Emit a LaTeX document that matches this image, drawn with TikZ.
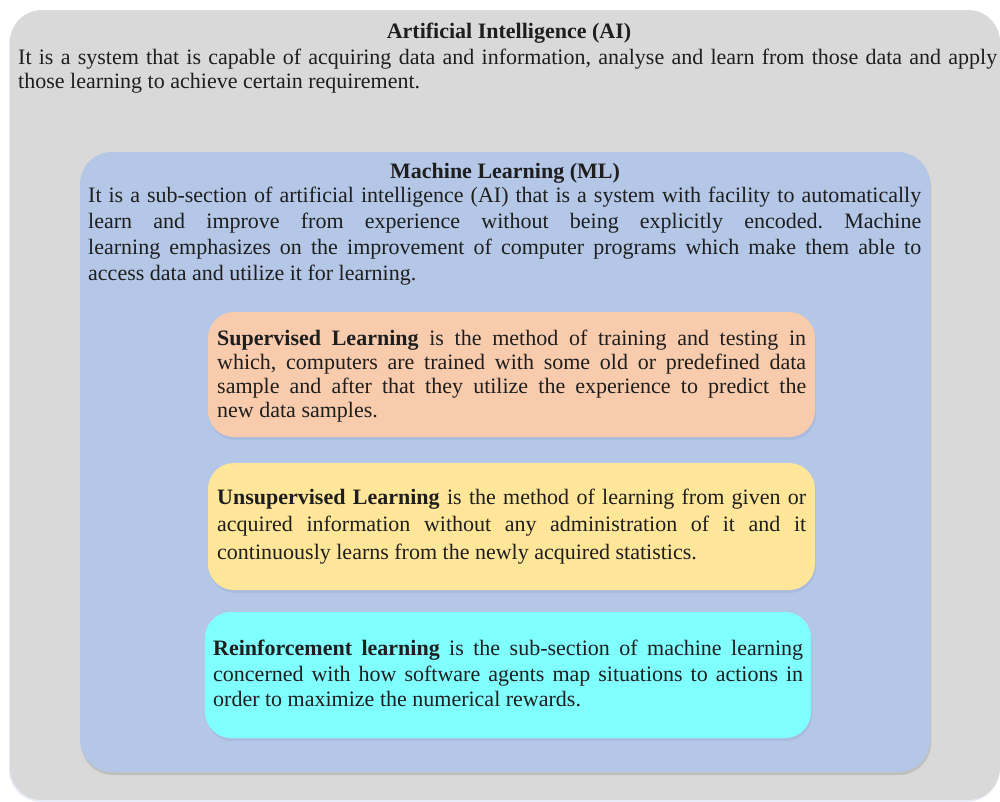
\documentclass[tikz,border=0pt]{standalone}
\usepackage{fontspec}
\setmainfont{Liberation Serif}
\usetikzlibrary{shadows}
\definecolor{aigray}{HTML}{D9D9D9}
\definecolor{mlblue}{HTML}{B4C7E7}
\definecolor{suppeach}{HTML}{F8CBAD}
\definecolor{unsyellow}{HTML}{FFE699}
\definecolor{rlcyan}{HTML}{80FFFF}
\definecolor{txt}{HTML}{1E1E1E}
\definecolor{shadowblue}{HTML}{8EA2D0}
\begin{document}
\begin{tikzpicture}[x=1pt,y=-1pt,
  panel/.style={rectangle, draw=none, inner sep=0pt, rounded corners=#1},
  softshadow/.style={drop shadow={shadow xshift=1pt, shadow yshift=-3pt, opacity=0.28, fill=#1}},
  para/.style={anchor=north west, inner sep=0pt, text width=#1, align=justify, text=txt},
  heading/.style={anchor=base, inner sep=0pt, text=txt, font=\fontsize{22}{24}\selectfont\bfseries}
]
\useasboundingbox (0,0) rectangle (1000,801);
\tolerance=9999 \hyphenpenalty=10000 \frenchspacing
% boxes
\node[panel=32pt, fill=aigray, minimum width=990pt, minimum height=790pt,
      drop shadow={shadow xshift=-1pt, shadow yshift=-2pt, opacity=0.2, fill=shadowblue}] (ai) at (505,405) {};
\node[panel=32pt, fill=mlblue, minimum width=850pt, minimum height=620pt, softshadow=gray] (ml) at (505,462) {};
\node[panel=26pt, fill=suppeach, minimum width=607pt, minimum height=125pt, softshadow=shadowblue] (sup) at (511.5,374.5) {};
\node[panel=26pt, fill=unsyellow, minimum width=607pt, minimum height=127pt, softshadow=shadowblue] (uns) at (511.5,526.5) {};
\node[panel=26pt, fill=rlcyan, minimum width=606pt, minimum height=126pt, softshadow=shadowblue] (rl) at (508,675) {};
% texts
\node[heading] (aititle) at (509,38) {Artificial Intelligence (AI)};
\node[para=979pt, font=\fontsize{22}{24}\selectfont] (aitext) at (18,47)
  {\strut It is a system that is capable of acquiring data and information, analyse and learn from those data and apply\linebreak those learning to achieve certain requirement.};
\node[heading] (mltitle) at (505,178) {Machine Learning (ML)};
\node[para=833pt, font=\fontsize{22}{26}\selectfont] (mltext) at (88,183.8)
  {\strut It is a sub-section of artificial intelligence (AI) that is a system with facility to automatically\linebreak learn and improve from experience without being explicitly encoded. Machine\linebreak learning emphasizes on the improvement of computer programs which make them able to\linebreak access data and utilize it for learning.};
\node[para=589pt, font=\fontsize{22}{23.9}\selectfont] (suptext) at (217,328.6)
  {\strut\textbf{Supervised Learning} is the method of training and testing in\linebreak which, computers are trained with some old or predefined data\linebreak sample and after that they utilize the experience to predict the\linebreak new data samples.};
\node[para=589pt, font=\fontsize{22}{27.5}\selectfont] (unstext) at (217,484.8)
  {\strut\textbf{Unsupervised Learning} is the method of learning from given or\linebreak acquired information without any administration of it and it\linebreak continuously learns from the newly acquired statistics.};
\node[para=590pt, font=\fontsize{22}{25.5}\selectfont] (rltext) at (213,637.5)
  {\strut\textbf{Reinforcement learning} is the sub-section of machine learning\linebreak concerned with how software agents map situations to actions in\linebreak order to maximize the numerical rewards.};
\end{tikzpicture}
\end{document}
